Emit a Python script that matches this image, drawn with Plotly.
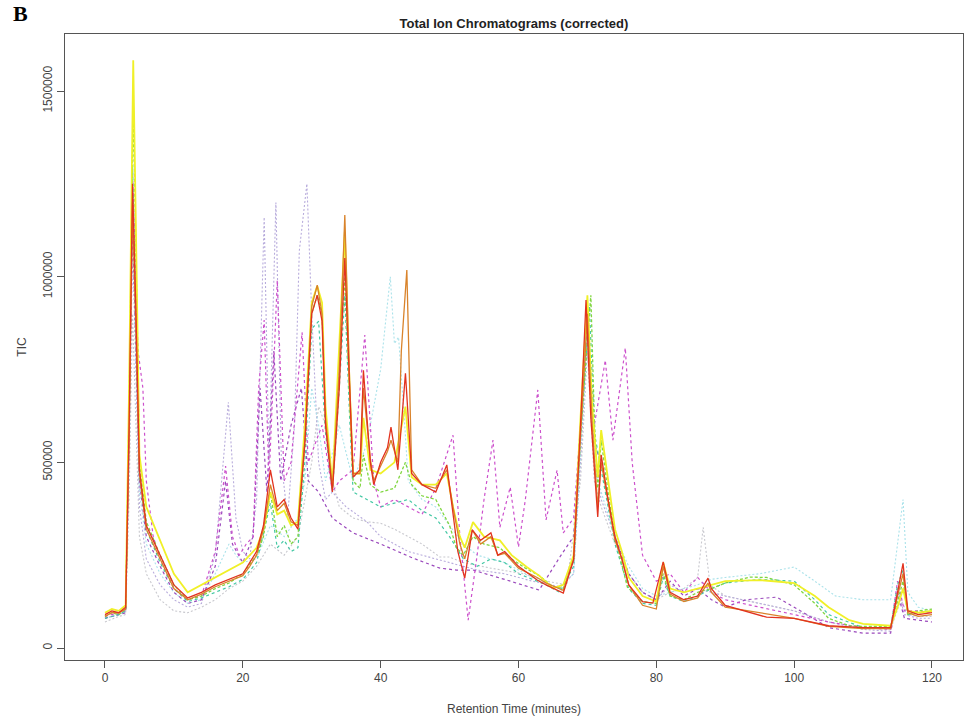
import plotly.graph_objects as go

# (retention time [min], TIC [thousands])
red = [(0,90),(1,100),(2,95),(3,110),(3.5,600),(4,1250),(4.5,900),(5,480),(6,330),(8,250),(10,170),(12,135),(14,150),(16,170),(18,185),(20,200),(21,230),(22,260),(23,330),(24,480),(25,380),(26,400),(27,350),(28,320),(29,550),(30,900),(30.8,950),(31.5,880),(32,600),(33,420),(34,700),(34.8,1050),(35.5,700),(36,460),(37,480),(37.5,748),(38.5,500),(39,440),(40,500),(41,540),(41.5,595),(42.5,480),(43.6,740),(44.5,470),(46,440),(48,420),(49.6,493),(50.5,360),(51.2,260),(52.2,188),(53.3,318),(54.5,290),(56,310),(57,250),(58,260),(60,220),(62.7,183),(64,170),(66.5,148),(68,237),(69,600),(69.8,937),(70.5,620),(71.5,353),(72,520),(73,400),(74,300),(75,240),(76,170),(78,125),(79.5,121),(81,232),(82,150),(84,130),(86,140),(87.5,188),(88,160),(90,115),(93,100),(96,83),(100,80),(105,60),(110,55),(114,55),(115,150),(115.8,228),(116.5,100),(118,90),(120,95)]
orange = [(0,85),(1,95),(2,95),(3,105),(3.5,550),(4,1200),(4.5,850),(5,470),(6,320),(8,240),(10,160),(12,130),(14,145),(16,165),(18,180),(20,195),(21,220),(22,250),(23,320),(24,440),(25,370),(26,390),(27,340),(28,330),(29,560),(30,920),(30.8,977),(31.5,900),(32,620),(33,430),(34,750),(34.8,1166),(35.5,720),(36,470),(37,470),(37.5,700),(38.5,510),(39,450),(40,490),(41,530),(41.5,560),(42.5,500),(43,800),(43.8,1018),(44.5,480),(46,440),(48,430),(49.6,480),(50.5,380),(51.5,280),(52.2,240),(53.3,318),(54.5,280),(56,300),(57,250),(58,255),(60,215),(62.7,190),(64,175),(66.5,155),(68,240),(69,560),(70,900),(70.7,600),(71.5,380),(72,500),(73,390),(74,290),(75,240),(76,170),(78,115),(80,105),(81,220),(82,145),(84,125),(86,135),(87.5,175),(88,150),(90,110),(95,95),(100,80),(105,58),(110,52),(114,52),(115,140),(115.8,200),(116.5,95),(118,85),(120,90)]
yellow = [(0,95),(1,105),(2,100),(3,115),(3.5,700),(4.1,1583),(4.6,1000),(5,520),(6,380),(8,290),(10,200),(12,150),(14,170),(16,190),(18,210),(20,230),(22,270),(23,320),(24,420),(25,360),(26,370),(27,330),(28,340),(29,600),(30,930),(30.8,975),(31.5,930),(32,650),(33,440),(34,800),(34.8,1120),(35.5,700),(36,470),(37,470),(37.5,620),(38.5,480),(40,470),(42,500),(43.6,650),(44.5,460),(46,440),(48,440),(49.6,470),(50.5,380),(51.5,300),(52.2,270),(53.4,339),(55,300),(57.3,290),(59,250),(61.2,218),(63,195),(65,161),(66.5,170),(68,250),(69,620),(70,950),(70.7,650),(71.5,460),(72,587),(73,450),(74,320),(75,260),(76,190),(78,140),(80,125),(81,230),(82,160),(84,150),(86,160),(88,170),(90,180),(95,183),(100,175),(103,140),(105,110),(108,75),(110,65),(114,60),(115,110),(115.8,160),(116.5,100),(118,95),(120,100)]
green = [(0,85),(1,95),(2,90),(3,105),(3.5,650),(4.1,1460),(4.6,950),(5,500),(6,340),(8,250),(10,170),(12,130),(14,140),(16,160),(18,175),(20,200),(22,250),(23,300),(24,420),(25,300),(26,330),(27,280),(28,300),(29,550),(30,900),(30.8,950),(31.5,900),(32,620),(33,430),(34,750),(34.8,1000),(35.5,680),(36,450),(37,430),(37.5,520),(38.5,440),(40,420),(42,430),(43.6,500),(44.5,440),(46,410),(48,400),(50,330),(51,270),(52,250),(53.4,300),(55,280),(57.3,270),(59,240),(61,215),(63,195),(65,165),(66.5,160),(68,240),(69,580),(70.5,950),(71,620),(71.5,430),(72,560),(73,420),(74,300),(75.8,164),(78,125),(80,120),(81,200),(82,140),(84,130),(86,150),(88,160),(90,175),(93.6,191),(96,190),(100,170),(103,120),(105,80),(108,60),(110,58),(114,58),(115,130),(115.8,180),(116.5,90),(118,100),(120,105)]
teal = [(0,80),(2,90),(3,100),(3.5,600),(4,1300),(5,460),(6,320),(8,230),(10,160),(12,125),(14,135),(16,150),(18,165),(20,185),(22,230),(24,390),(25,270),(26,290),(27,260),(28,270),(29,500),(30,860),(31,880),(32,580),(33,420),(34,700),(34.8,950),(35.5,620),(36,420),(38,400),(40,380),(42,390),(44,400),(46,370),(48,350),(50,300),(52,240),(54,220),(56,240),(58,230),(60,200),(62,185),(64,170),(66,150),(68,220),(69,560),(70.3,920),(71,580),(72,480),(73,380),(74,280),(75,220),(76,160),(78,120),(80,115),(81,190),(82,140),(84,125),(86,140),(88,160),(90,175),(95,185),(100,180),(103,130),(105,90),(110,55),(114,55),(115,170),(115.8,210),(116.5,90),(118,95),(120,100)]
cyan = [(0,80),(2,90),(3,100),(3.5,500),(4,1150),(5,420),(6,280),(8,200),(10,150),(12,120),(14,130),(16,200),(18,280),(19,250),(20,230),(22,240),(24,330),(26,300),(28,350),(29,450),(30,700),(31,600),(32,450),(34,600),(36,450),(38,550),(40,750),(41.4,1000),(42,820),(42.6,837),(43.5,600),(44,450),(46,400),(48,380),(50,330),(52,280),(54,250),(56,240),(58,230),(60,210),(62,190),(64,175),(66,160),(68,200),(69,520),(70,880),(71,500),(72,420),(74,300),(76,220),(78,160),(80,140),(82,150),(84,160),(86,170),(88,185),(90,190),(95,200),(100,218),(103,180),(106,140),(110,130),(114,130),(115.8,400),(116.5,150),(118,110),(120,100)]
lavender = [(0,80),(2,90),(3,100),(3.5,500),(4,1100),(5,380),(6,240),(8,170),(10,130),(12,110),(14,120),(16,250),(17.9,662),(19,350),(20,260),(21,240),(22,400),(23.1,1160),(23.8,500),(24.8,1200),(25.6,500),(26.5,350),(27.5,600),(28.2,1070),(29.3,1250),(30,900),(31,500),(32,400),(33,420),(35,380),(38,340),(40,300),(42,280),(44,260),(46,250),(48,240),(50,230),(54,210),(58,200),(62,180),(66,165),(68,200),(69,500),(70,850),(71,500),(72,400),(74,300),(76,200),(78,150),(80,130),(82,170),(84,150),(86,160),(88,150),(90,140),(95,120),(100,100),(105,70),(110,50),(114,45),(115,160),(116,90),(118,80),(120,80)]
gray = [(0,70),(2,85),(3,90),(3.5,400),(4,900),(5,300),(6,200),(8,130),(10,100),(12,95),(14,110),(16,130),(18,160),(20,180),(22,220),(24,280),(26,250),(28,300),(30,500),(31,650),(32,600),(33,450),(34,380),(36,350),(38,340),(40,336),(42,320),(44,300),(46,280),(48.6,245),(50,245),(52,230),(56,215),(60.7,200),(64,180),(67,170),(69,450),(70,800),(71,450),(72,380),(74,280),(76,200),(78,150),(80,130),(82,150),(84,160),(86,190),(86.8,325),(87.8,170),(90,140),(95,120),(100,100),(105,70),(110,55),(114,50),(115.5,130),(116.5,90),(118,85),(120,85)]
magenta = [(0,85),(2,95),(3,100),(3.5,600),(4,1280),(4.8,800),(5.5,700),(6,450),(7,300),(8,240),(10,160),(12,130),(14,140),(16,260),(17.5,490),(18.5,300),(19.5,250),(20.5,280),(21.5,300),(22.3,700),(23.1,883),(23.8,450),(25,990),(26,450),(27,500),(28.6,850),(29.5,500),(30.5,550),(31.5,600),(33,420),(34,450),(36,480),(37.7,843),(39,450),(40,380),(42,400),(44,380),(46,360),(48,430),(49.2,500),(50.5,573),(51.5,300),(52.7,75),(54,250),(55,400),(56.3,560),(57.3,325),(58.8,433),(60,272),(61,400),(62.8,695),(64,345),(65.6,479),(66.5,310),(68,350),(69,600),(70,900),(71,600),(72.6,775),(73.7,560),(75.5,808),(76.5,500),(78,250),(80,180),(82,200),(84,150),(86,190),(88,150),(90,130),(95,110),(100,90),(105,70),(110,55),(114,50),(115,180),(116,100),(118,100),(120,95)]
purple = [(0,80),(2,90),(3,95),(3.5,550),(4,1150),(5,450),(6,300),(8,220),(10,150),(12,120),(14,130),(16,220),(17.5,450),(18.5,280),(20,230),(21.5,300),(22.5,700),(23.5,420),(24.5,800),(25.5,450),(27,600),(28.5,700),(29.5,450),(31,420),(33,350),(36,310),(40,280),(44.7,242),(48.6,215),(51,210),(53.4,210),(58.3,183),(63,156),(66,245),(68,300),(69,600),(70,880),(71,550),(72,500),(73,400),(74,300),(76,200),(78,150),(80,130),(82,180),(84,140),(86,160),(88,130),(90,110),(93,130),(97.5,137),(100,110),(105,55),(110,40),(114,40),(115,150),(116,80),(118,75),(120,70)]

x_ticks = [0, 20, 40, 60, 80, 100, 120]
y_ticks = [0, 500000, 1000000, 1500000]

# drawing order: faint first, solids last
series = [
    (gray, "#c8c8ce", "2px,2px", 1.1),
    (lavender, "#b8acdc", "2px,2px", 1.1),
    (cyan, "#aae2ea", "2px,2px", 1.1),
    (purple, "#9a48bc", "3px,3px", 1.2),
    (magenta, "#cc50cc", "3px,3px", 1.2),
    (teal, "#44c8a4", "3px,3px", 1.2),
    (green, "#80d640", "3px,2px", 1.3),
    (yellow, "#f0f028", "solid", 1.8),
    (orange, "#d9832b", "solid", 1.3),
    (red, "#e2331f", "solid", 1.3),
]

fig = go.Figure()
for data, color, dash, w in series:
    fig.add_trace(go.Scatter(
        x=[p[0] for p in data], y=[p[1] * 1000 for p in data],
        mode="lines", line=dict(color=color, dash=dash, width=w),
        showlegend=False, hoverinfo="skip"))

axis_font = dict(family="Liberation Sans, Arial", size=12, color="#444")
fig.update_layout(
    width=966, height=718,
    margin=dict(l=65, r=3, t=34, b=58),
    paper_bgcolor="white", plot_bgcolor="white",
    title=dict(text="<b>Total Ion Chromatograms (corrected)</b>", x=0.532, xanchor="center",
               y=0.968, yanchor="middle",
               font=dict(family="Liberation Sans, Arial", size=13, color="#222")),
    xaxis=dict(range=[-5.8, 124.5], tickvals=x_ticks, ticks="outside", ticklen=7,
               tickcolor="#555", showline=True, mirror=True, linecolor="#555", linewidth=1,
               showgrid=False, zeroline=False, tickfont=axis_font,
               title=dict(text="Retention Time (minutes)", font=axis_font, standoff=20)),
    yaxis=dict(range=[-32300, 1653600], tickvals=y_ticks, ticktext=[str(v) for v in y_ticks],
               ticks="outside", ticklen=7, tickangle=-90,
               tickcolor="#555", showline=True, mirror=True, linecolor="#555", linewidth=1,
               showgrid=False, zeroline=False, tickfont=axis_font,
               title=dict(text="TIC", font=axis_font, standoff=12)),
    annotations=[dict(text="<b>B</b>", x=0.0, y=1.0, xref="paper", yref="paper",
                      xshift=-54, yshift=35, showarrow=False, xanchor="left", yanchor="top",
                      font=dict(family="Liberation Serif, Times New Roman", size=22, color="black"))],
)
fig.write_html("out.html")
